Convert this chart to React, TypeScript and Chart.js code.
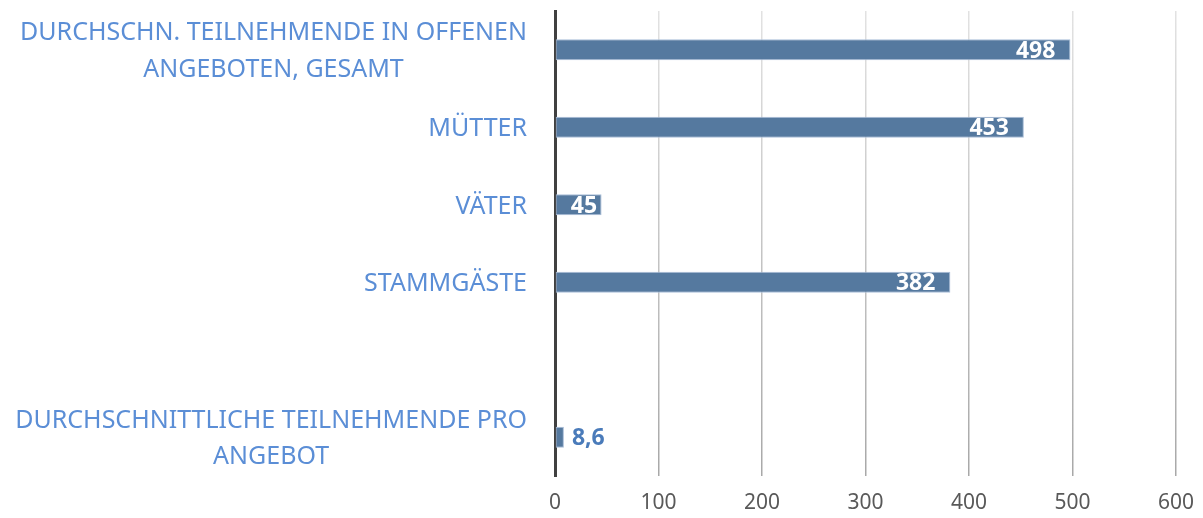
import React, { useEffect, useRef } from "react";
import { Chart, registerables } from "chart.js";

Chart.register(...registerables);

const categories: string[][] = [
  ["DURCHSCHN. TEILNEHMENDE IN OFFENEN", "ANGEBOTEN, GESAMT"],
  ["MÜTTER"],
  ["VÄTER"],
  ["STAMMGÄSTE"],
  [""],
  ["DURCHSCHNITTLICHE TEILNEHMENDE PRO", "ANGEBOT"],
];
const values: (number | null)[] = [498, 453, 45, 382, null, 8.6];
const valueLabels: string[] = ["498", "453", "45", "382", "", "8,6"];
const xTicks: number[] = [0, 100, 200, 300, 400, 500, 600];

const CAT_COLOR = "#5B8ED6";
const BAR_COLOR = "#55799F";
const FONT = "'Noto Sans', sans-serif";

const categoryLabelPlugin = {
  id: "categoryLabels",
  afterDraw(chart: any) {
    const ctx = chart.ctx;
    const y = chart.scales.y;
    const rightEdge = chart.chartArea.left - 28;
    const lineH = 36.5;
    const size = 25;
    ctx.save();
    ctx.font = `${size}px ${FONT}`;
    ctx.fillStyle = CAT_COLOR;
    ctx.textAlign = "center";
    ctx.textBaseline = "alphabetic";
    const capHalf = (0.714 * size) / 2;
    categories.forEach((lines, i) => {
      const cy = y.getPixelForValue(i);
      const maxW = Math.max(...lines.map((l) => ctx.measureText(l).width));
      const cx = rightEdge - maxW / 2;
      const start = cy - ((lines.length - 1) * lineH) / 2;
      lines.forEach((l, j) => ctx.fillText(l, cx, start + j * lineH + capHalf));
    });
    ctx.restore();
  },
};

const valueLabelPlugin = {
  id: "valueLabels",
  afterDatasetsDraw(chart: any) {
    const ctx = chart.ctx;
    const meta = chart.getDatasetMeta(0);
    const size = 23;
    ctx.save();
    ctx.font = `bold ${size}px ${FONT}`;
    ctx.textBaseline = "alphabetic";
    const capHalf = (0.714 * size) / 2;
    meta.data.forEach((bar: any, i: number) => {
      const v = values[i];
      if (v === null) return;
      const txt = valueLabels[i];
      const w = ctx.measureText(txt).width;
      const barLen = bar.x - bar.base;
      ctx.textAlign = "left";
      if (barLen > w + 10) {
        ctx.fillStyle = "#FFFFFF";
        const x = Math.max(bar.x - 15 - w, bar.base + 15);
        ctx.fillText(txt, x, bar.y + capHalf);
      } else {
        ctx.fillStyle = "#4A7BBA";
        ctx.fillText(txt, bar.x + 8, bar.y + capHalf);
      }
    });
    ctx.restore();
  },
};

export default function App() {
  const ref = useRef<HTMLCanvasElement>(null);
  useEffect(() => {
    if (!ref.current) return;
    const chart = new Chart(ref.current, {
      type: "bar",
      data: {
        labels: categories.map((c) => c.join(" ")),
        datasets: [
          {
            data: values,
            backgroundColor: BAR_COLOR,
            borderColor: "#A9BDD8",
            borderWidth: 1,
            borderSkipped: false,
            barPercentage: 0.27,
            categoryPercentage: 1,
          },
        ],
      },
      options: {
        indexAxis: "y",
        animation: false,
        responsive: true,
        maintainAspectRatio: false,
        layout: { padding: { top: 11, right: 27, left: 0, bottom: 0 } },
        plugins: {
          legend: { display: false },
          tooltip: { enabled: false },
        },
        scales: {
          x: {
            min: 0,
            max: 600,
            afterBuildTicks: (scale: any) => {
              scale.ticks = xTicks.map((v) => ({ value: v }));
            },
            afterFit: (scale: any) => {
              scale.height = 42;
              scale.paddingLeft = 0;
              scale.paddingRight = 0;
            },
            border: { display: false },
            grid: {
              drawTicks: false,
              lineWidth: 1.5,
              color: (c: any) => {
                if (c.index === 0) return "rgba(0,0,0,0)";
                const ca = c.chart.chartArea;
                if (!ca) return "#c0c0c0";
                const g = c.chart.ctx.createLinearGradient(0, ca.top, 0, ca.bottom);
                g.addColorStop(0, "#E2E2E2");
                g.addColorStop(1, "#A8A8A8");
                return g;
              },
            },
            ticks: {
              padding: 14,
              color: "#595959",
              font: { family: FONT, size: 21 },
            },
          },
          y: {
            type: "category",
            afterFit: (scale: any) => {
              scale.width = 555;
            },
            border: { display: true, color: "#404040", width: 3 },
            grid: { display: false },
            ticks: { display: false },
          },
        },
      },
      plugins: [categoryLabelPlugin, valueLabelPlugin],
    });
    return () => chart.destroy();
  }, []);
  return (
    <div style={{ position: "absolute", left: 0, top: 0, width: 1203, height: 518, background: "#fff" }}>
      <canvas ref={ref} />
    </div>
  );
}
